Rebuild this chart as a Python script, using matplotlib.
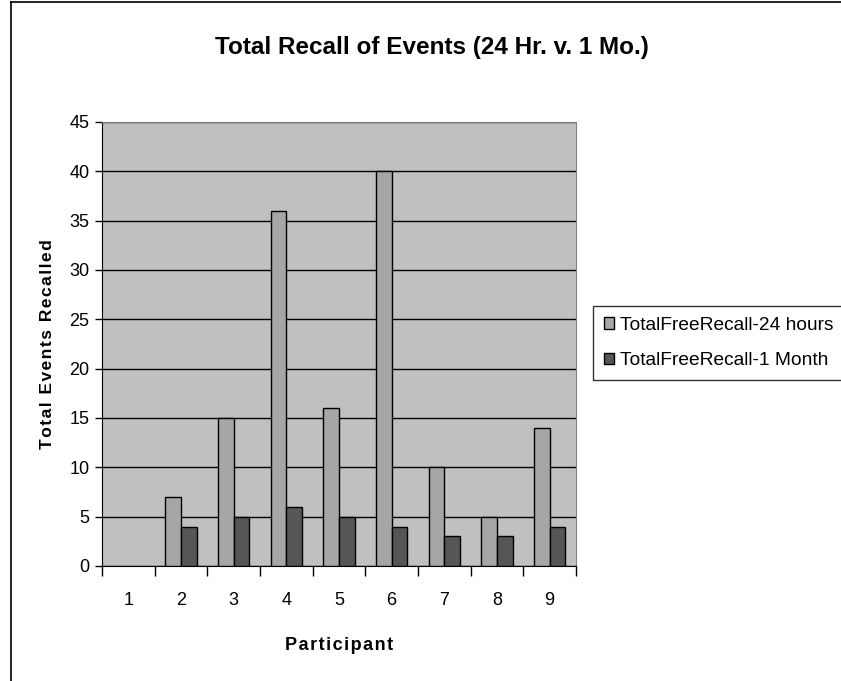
import numpy as np
import matplotlib
matplotlib.use("Agg")
import matplotlib.pyplot as plt
from matplotlib.lines import Line2D
from matplotlib.ticker import FixedLocator, NullFormatter

plt.rcParams['font.family'] = ['Liberation Sans', 'DejaVu Sans']

participants = ['1', '2', '3', '4', '5', '6', '7', '8', '9']
recall_24h = [np.nan, 7, 15, 36, 16, 40, 10, 5, 14]
recall_1mo = [np.nan, 4, 5, 6, 5, 4, 3, 3, 4]
series_names = ['TotalFreeRecall-24 hours', 'TotalFreeRecall-1 Month']

W, H = 841, 681
fig = plt.figure(figsize=(W / 100, H / 100), dpi=100)
fig.patch.set_facecolor('white')

# chart area border (only left and top are visible in the crop)
fig.add_artist(Line2D([11 / W, 11 / W], [0, 1 - 2 / H], color='black', lw=1.2))
fig.add_artist(Line2D([11 / W, 1], [1 - 2 / H, 1 - 2 / H], color='black', lw=1.2))

ax = fig.add_axes([102 / W, 1 - 566 / H, (576 - 102) / W, (566 - 122) / H])
ax.set_facecolor('#C0C0C0')

x = np.arange(len(participants))
bw = 0.295
ax.bar(x - bw / 2, recall_24h, bw, color='#A6A6A6', edgecolor='black', lw=1.0,
       label=series_names[0], zorder=3)
ax.bar(x + bw / 2, recall_1mo, bw, color='#565656', edgecolor='black', lw=1.0,
       label=series_names[1], zorder=3)

ax.set_xlim(-0.5, len(participants) - 0.5)
ax.set_ylim(0, 45)
ax.set_yticks(np.arange(0, 46, 5))
ax.yaxis.grid(True, color='black', lw=1.0, zorder=1)
ax.set_axisbelow(True)

# ticks between categories, labels at category centres
ax.xaxis.set_major_locator(FixedLocator(np.arange(-0.5, len(participants), 1.0)))
ax.xaxis.set_major_formatter(NullFormatter())
ax.xaxis.set_minor_locator(FixedLocator(x))
ax.set_xticklabels(participants, minor=True)
ax.tick_params(axis='x', which='major', length=7, direction='out', width=1)
ax.tick_params(axis='x', which='minor', length=0, pad=19, labelsize=13)
ax.tick_params(axis='y', length=5, direction='out', width=1, labelsize=13, pad=4)

for s in ['left', 'bottom']:
    ax.spines[s].set_color('black')
for s in ['top', 'right']:
    ax.spines[s].set_color('#808080')

hs = '\u200a'
ax.set_xlabel(hs.join('Participant'), fontsize=13, fontweight='bold', labelpad=20)
ax.set_ylabel(hs.join('Total Events Recalled'), fontsize=12.5, fontweight='bold', labelpad=10)
fig.text(432 / W, 1 - 54 / H, 'Total Recall of Events (24 Hr. v. 1 Mo.)',
         ha='center', va='baseline', fontsize=17.5, fontweight='bold')

leg = ax.legend(loc='upper left', bbox_to_anchor=(593 / W, 1 - 306 / H),
                bbox_transform=fig.transFigure, frameon=True, fancybox=False,
                edgecolor='black', fontsize=13.8, handlelength=0.55, handleheight=0.55,
                handletextpad=0.3, borderpad=0.55, labelspacing=0.98,
                borderaxespad=0)
leg.get_frame().set_linewidth(1.0)

fig.savefig('out.png', dpi=100)
